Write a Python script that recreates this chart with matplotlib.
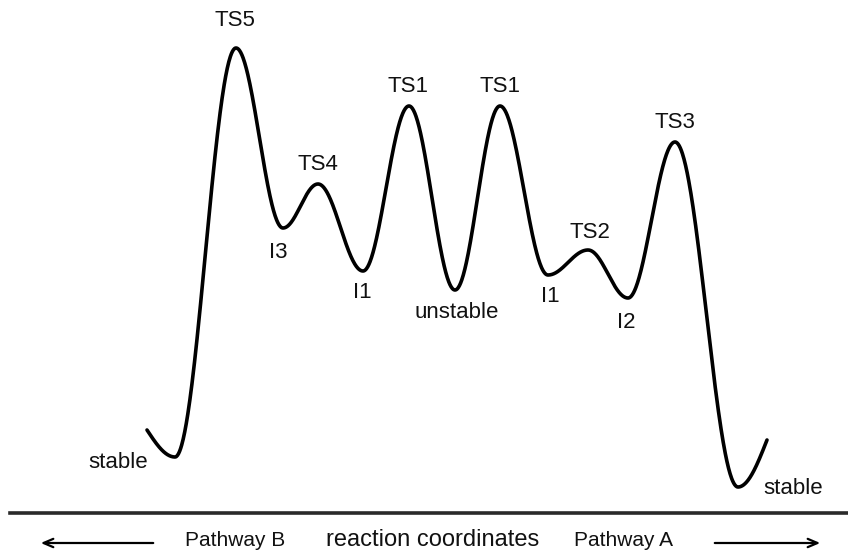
import numpy as np
import matplotlib
matplotlib.use("Agg")
import matplotlib.pyplot as plt

plt.rcParams["font.family"] = ["Liberation Sans", "DejaVu Sans"]

# stationary points of the energy profile, left to right
# (x along reaction coordinate, y = drawn depth, larger = lower energy)
point_x = [147, 175, 236, 283, 318, 363, 409, 455, 500, 548, 588, 628, 675, 738, 767]
point_y = [430, 457, 48, 228, 184, 271, 106, 290, 106, 275, 250, 298, 142, 487, 440]

# labels for the stationary points and where they sit
labels = ["stable", "TS5", "I3", "TS4", "I1", "TS1", "unstable",
          "TS1", "I1", "TS2", "I2", "TS3", "stable"]
label_x = [118, 235, 278, 318, 362, 408, 457, 500, 550, 590, 626, 675, 793]
label_y = [463, 21, 252, 165, 293, 86, 312, 86, 296, 232, 322, 122, 489]

pathway_texts = ["Pathway B", "reaction coordinates", "Pathway A"]
pathway_x = [235, 433, 623]


def segment(x0, y0, x1, y1, kind="full", n=120):
    s = np.linspace(0, 1, n)
    f = lambda p: (1 - np.cos(np.pi * p)) / 2
    if kind == "start":
        g = (f(0.5 + 0.5 * s) - 0.5) / 0.5
    elif kind == "end":
        g = f(0.5 * s) / 0.5
    else:
        g = f(s)
    return x0 + (x1 - x0) * s, y0 + (y1 - y0) * g


xs, ys = [], []
n_seg = len(point_x) - 1
for i in range(n_seg):
    kind = "start" if i == 0 else ("end" if i == n_seg - 1 else "full")
    sx, sy = segment(point_x[i], point_y[i], point_x[i + 1], point_y[i + 1], kind)
    xs.append(sx)
    ys.append(sy)
xs = np.concatenate(xs)
ys = np.concatenate(ys)

fig = plt.figure(figsize=(8.48, 5.51), dpi=100)
ax = fig.add_axes([0, 0, 1, 1])
ax.set_xlim(0, 848)
ax.set_ylim(551, 0)
ax.axis("off")

ax.plot(xs, ys, color="black", lw=2.6, solid_capstyle="round")

for lab, lx, ly in zip(labels, label_x, label_y):
    ax.text(lx, ly, lab, ha="center", va="center", fontsize=16, color="#111111")

# baseline
ax.plot([10, 848], [513, 513], color="#2a2a2a", lw=2.6)

# pathway arrows
arrow = dict(arrowstyle="->,head_length=0.7,head_width=0.3", lw=1.6, color="black")
ax.annotate("", xy=(38, 543), xytext=(156, 543), arrowprops=arrow)
ax.annotate("", xy=(823, 543), xytext=(712, 543), arrowprops=arrow)

sizes = [15, 17, 15]
for t, tx, sz in zip(pathway_texts, pathway_x, sizes):
    ax.text(tx, 540, t, ha="center", va="center", fontsize=sz, color="#111111")

fig.savefig("out.png", dpi=100)
